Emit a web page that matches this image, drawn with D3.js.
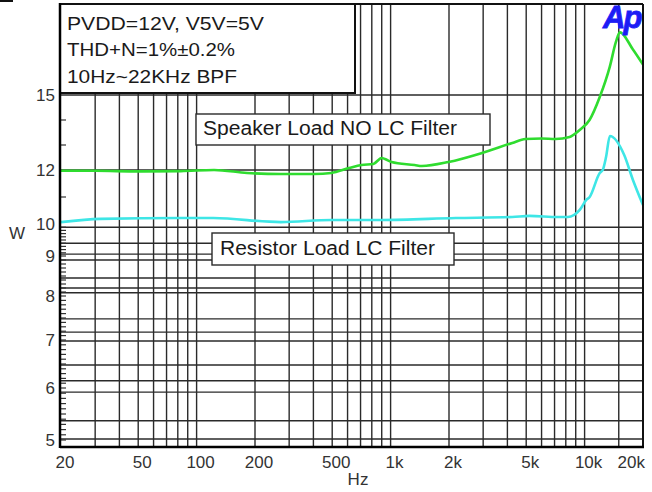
<!DOCTYPE html>
<html><head><meta charset="utf-8">
<script src="https://cdn.jsdelivr.net/npm/d3@7"></script>
<style>body{margin:0;background:#fff}svg{display:block}text{font-family:Arial,"Liberation Sans",sans-serif}</style>
</head><body><svg id="c" width="652" height="492"></svg>
<script>
// ---- data ----
const freqGreen = [20, 30, 50, 83, 123, 182, 272, 404, 495, 611, 708, 815, 899, 935, 1010, 1330, 1450, 1990, 2960, 4240, 4950, 6000, 7080, 8370, 9440, 10600, 11970, 13490, 14490, 15200, 17750, 20000];
const speakerW  = [11.97, 11.97, 11.95, 11.96, 12.0, 11.89, 11.85, 11.85, 11.89, 12.08, 12.2, 12.24, 12.48, 12.44, 12.32, 12.2, 12.16, 12.32, 12.68, 13.08, 13.24, 13.26, 13.24, 13.32, 13.6, 14.0, 14.92, 16.56, 17.9, 18.44, 17.5, 16.67];
const freqCyan  = [20, 32, 83, 122, 272, 495, 899, 2170, 4240, 5200, 7300, 8200, 9440, 10200, 10620, 11970, 12400, 12900, 13500, 16000, 17750, 20000];
const resistorW = [10.07, 10.19, 10.22, 10.22, 10.07, 10.15, 10.15, 10.22, 10.26, 10.3, 10.26, 10.26, 10.52, 10.89, 11.0, 11.89, 12.0, 12.52, 13.36, 12.6, 11.63, 10.7];
const xTickValues = [20, 50, 100, 200, 500, 1000, 2000, 5000, 10000, 20000];
const xTickLabels = ["20", "50", "100", "200", "500", "1k", "2k", "5k", "10k", "20k"];
const xGridFreqs = [30, 40, 50, 60, 70, 80, 90, 100, 200, 300, 400, 500, 600, 700, 800, 900, 1000, 2000, 3000, 4000, 5000, 6000, 7000, 8000, 9000, 10000, 15000];
const yTickValues = [15, 12, 10, 9, 8, 7, 6, 5];
const yTickLabels = ["15", "12", "10", "9", "8", "7", "6", "5"];
const yGridW = [15, 12, 9.9, 9.4, 9.06, 8.9, 8.45, 8.2, 8.08, 7.48, 7.18, 6.98, 6.48, 6.15, 5.92, 5.37, 5.02];
const yMinorW = [14, 13, 11].concat(d3.range(50, 100).map(v => v / 10));
const infoLines = ["PVDD=12V, V5V=5V", "THD+N=1%±0.2%", "10Hz~22KHz BPF"];
const legendTexts = ["Speaker Load NO LC Filter", "Resistor Load LC Filter"];
const xTitle = "Hz", yTitle = "W", logoText = "Ap";

// ---- scales ----
const x = d3.scaleLog().domain([20, 20000]).range([61, 643]);
const y = d3.scaleLinear()
  .domain([20, 15, 12, 10, 9, 8, 7, 6, 5, 4.88])
  .range([4, 95, 170, 224, 256, 296, 340, 388, 440, 447]);

const svg = d3.select("#c");
const L = 60, R = 643, T = 4, B = 447;

svg.append("line").attr("x1", 0).attr("x2", 13).attr("y1", 1).attr("y2", 1).attr("stroke", "#111").attr("stroke-width", 2);

// grid
const g = svg.append("g");
g.selectAll("line.vg").data(xGridFreqs).join("line")
  .attr("x1", d => x(d)).attr("x2", d => x(d)).attr("y1", T).attr("y2", B)
  .attr("stroke", "#2a2a2a").attr("stroke-width", 1.4);
g.selectAll("line.hg").data(yGridW).join("line")
  .attr("x1", L).attr("x2", R).attr("y1", d => y(d)).attr("y2", d => y(d))
  .attr("stroke", "#2a2a2a").attr("stroke-width", 1.4);
g.selectAll("line.mt").data(yMinorW).join("line")
  .attr("x1", L).attr("x2", L + 6).attr("y1", d => y(d)).attr("y2", d => y(d))
  .attr("stroke", "#333").attr("stroke-width", 1.2);

// info box
svg.append("rect").attr("x", L).attr("y", T).attr("width", 295).attr("height", 89)
  .attr("fill", "#fff").attr("stroke", "#111").attr("stroke-width", 2);
svg.selectAll("text.info").data(infoLines).join("text")
  .attr("x", 67).attr("y", (d, i) => 29.5 + i * 26.5)
  .attr("font-size", 19).attr("fill", "#1a1a1a")
  .attr("textLength", (d, i) => [197, 168, 170][i]).attr("lengthAdjust", "spacingAndGlyphs")
  .text(d => d);

// legend boxes
const lg = [{x0: 196, y0: 114, w: 294, h: 31, tx: 203, ty: 135, tl: 254},
            {x0: 212, y0: 233, w: 242, h: 32, tx: 220, ty: 255, tl: 215}];
lg.forEach((b, i) => {
  svg.append("rect").attr("x", b.x0).attr("y", b.y0).attr("width", b.w).attr("height", b.h)
    .attr("fill", "#fff").attr("stroke", "#2a2a2a").attr("stroke-width", 1.4);
  svg.append("text").attr("x", b.tx).attr("y", b.ty).attr("font-size", 19.5).attr("fill", "#1a1a1a")
    .attr("textLength", b.tl).attr("lengthAdjust", "spacingAndGlyphs").text(legendTexts[i]);
});

// curves
const line = () => d3.line().x(d => x(d[0])).y(d => y(d[1])).curve(d3.curveMonotoneX);
svg.append("path").datum(d3.zip(freqCyan, resistorW)).attr("d", line())
  .attr("fill", "none").attr("stroke", "#3ee6e6").attr("stroke-width", 2.6);
svg.append("path").datum(d3.zip(freqGreen, speakerW)).attr("d", line())
  .attr("fill", "none").attr("stroke", "#2fdc2f").attr("stroke-width", 2.6);

// frame
svg.append("line").attr("x1", L).attr("x2", R).attr("y1", T).attr("y2", T).attr("stroke", "#111").attr("stroke-width", 2);
svg.append("line").attr("x1", R).attr("x2", R).attr("y1", T).attr("y2", B).attr("stroke", "#111").attr("stroke-width", 2);
svg.append("line").attr("x1", L).attr("x2", R + 1).attr("y1", B).attr("y2", B).attr("stroke", "#000").attr("stroke-width", 2.5);
svg.append("line").attr("x1", L).attr("x2", L).attr("y1", T - 1).attr("y2", B + 1).attr("stroke", "#000").attr("stroke-width", 2.5);

// tick labels
svg.selectAll("text.yl").data(yTickValues).join("text")
  .attr("x", 55).attr("y", d => y(d)).attr("dy", "0.36em").attr("text-anchor", "end")
  .attr("font-size", 17).attr("fill", "#333").text((d, i) => yTickLabels[i]);
svg.selectAll("text.xl").data(xTickValues).join("text")
  .attr("x", (d, i) => i === xTickValues.length - 1 ? x(d) + 2 : x(d) + 4)
  .attr("y", 468).attr("text-anchor", (d, i) => i === xTickValues.length - 1 ? "end" : "middle")
  .attr("font-size", 17).attr("fill", "#333").text((d, i) => xTickLabels[i]);

svg.append("text").attr("x", 358).attr("y", 485).attr("text-anchor", "middle").attr("font-size", 17).attr("fill", "#333").text(xTitle);
svg.append("text").attr("x", 17).attr("y", 239).attr("text-anchor", "middle").attr("font-size", 17).attr("fill", "#333").text(yTitle);

// logo
svg.append("text").attr("x", 603).attr("y", 28).attr("font-size", 31).attr("font-weight", "bold")
  .attr("font-style", "italic").attr("fill", "#1c1cf5").attr("letter-spacing", -2)
  .attr("stroke", "#1c1cf5").attr("stroke-width", 0.8).text(logoText);
</script></body></html>
